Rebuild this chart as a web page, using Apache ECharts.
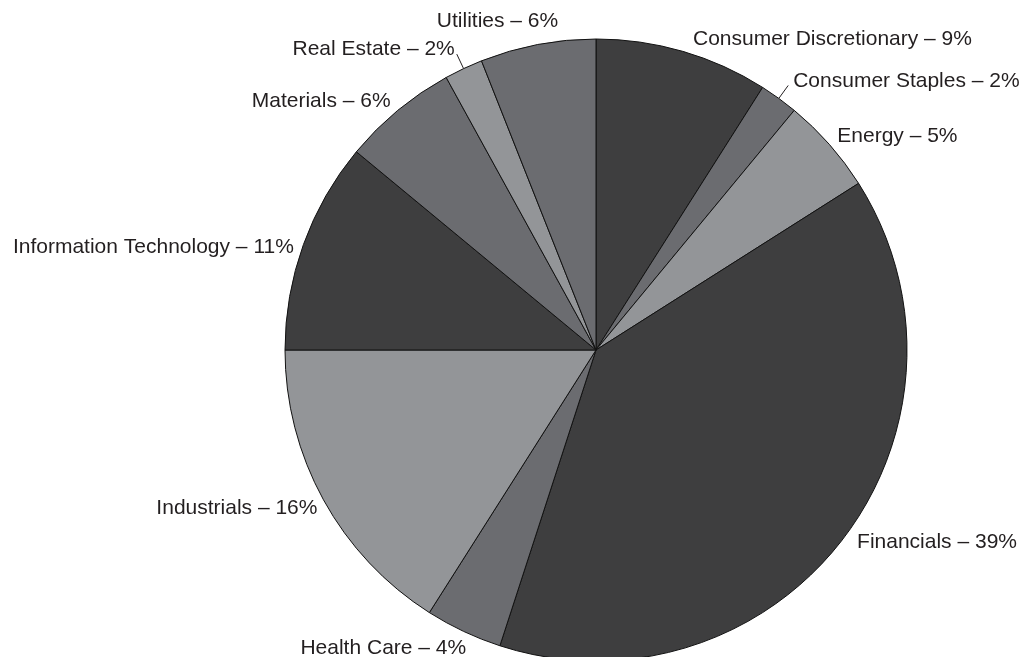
<!DOCTYPE html>
<html>
<head>
<meta charset="utf-8">
<script src="https://cdn.jsdelivr.net/npm/echarts@6/dist/echarts.min.js"></script>
<style>
  html, body { margin: 0; padding: 0; background: #fff; }
  #chart { width: 1027px; height: 657px; }
</style>
</head>
<body>
<div id="chart"></div>
<script>
const sectors = ['Consumer Discretionary', 'Consumer Staples', 'Energy', 'Financials', 'Health Care',
  'Industrials', 'Information Technology', 'Materials', 'Real Estate', 'Utilities'];
const weights = [9, 2, 5, 39, 4, 16, 11, 6, 2, 6];
const shades = ['#3e3e3f', '#6b6c70', '#939598', '#3e3e3f', '#6b6c70',
  '#939598', '#3e3e3f', '#6b6c70', '#939598', '#6b6c70'];
// only these two have a leader line in the original
const withLine = ['Consumer Staples', 'Real Estate'];

// small nudges so the labels sit where the printed ones do
const nudge = {
  'Consumer Discretionary': [6, -4],
  'Consumer Staples': [3, -4],
  'Energy': [0, -3],
  'Financials': [7, -3],
  'Health Care': [8, 10],
  'Industrials': [3, 5],
  'Information Technology': [0, 5],
  'Materials': [0, -3],
  'Real Estate': [0, -5],
  'Utilities': [24, -15]
};

const chart = echarts.init(document.getElementById('chart'));

const data = sectors.map((name, i) => {
  const item = {
    name: name,
    value: weights[i],
    itemStyle: {color: shades[i]}
  };
  if (withLine.indexOf(name) >= 0) {
    item.labelLine = {show: true, length: 16, length2: 0};
  }
  return item;
});

chart.setOption({
  animation: false,
  series: [
    {
      type: 'pie',
      center: [596, 350],
      radius: 311,
      startAngle: 90,
      clockwise: true,
      avoidLabelOverlap: false,
      itemStyle: {
        borderColor: '#111',
        borderWidth: 1
      },
      label: {
        show: true,
        position: 'outside',
        formatter: p => p.name + ' – ' + p.value + '%',
        fontFamily: 'Liberation Sans, Arial, sans-serif',
        fontSize: 21,
        color: '#231f20',
        distanceToLabelLine: 2
      },
      labelLine: {
        show: false,
        length: 8,
        length2: 0,
        lineStyle: {color: '#231f20', width: 1}
      },
      labelLayout: function (params) {
        const d = nudge[sectors[params.dataIndex]] || [0, 0];
        return {dx: d[0], dy: d[1], hideOverlap: false};
      },
      data: data
    }
  ]
});
</script>
</body>
</html>
